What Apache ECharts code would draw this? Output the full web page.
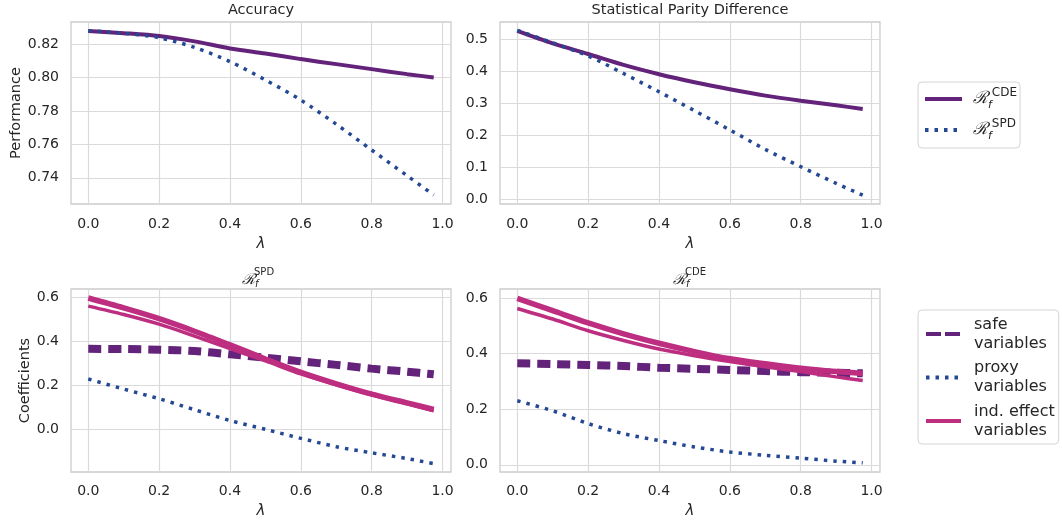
<!DOCTYPE html>
<html><head><meta charset="utf-8">
<script src="https://cdn.jsdelivr.net/npm/echarts@6/dist/echarts.min.js"></script>
<style>html,body{margin:0;padding:0;background:#fff}#c{width:1062px;height:520px}</style>
</head><body><div id="c"></div>
<script>
// ---------------- data ----------------
const lambdas = [0, 0.1, 0.2, 0.3, 0.4, 0.5, 0.6, 0.7, 0.8, 0.9, 0.975];
const xTicks = [0, 0.2, 0.4, 0.6, 0.8, 1.0];

// Accuracy panel
const accCDE = [0.8278, 0.8265, 0.8248, 0.8216, 0.8174, 0.8144, 0.8110, 0.8080, 0.8050, 0.8020, 0.8000];
const accSPD = [0.8280, 0.8265, 0.8238, 0.8180, 0.8095, 0.7985, 0.7865, 0.7720, 0.7566, 0.7412, 0.7297];
const accTicks = [0.74, 0.76, 0.78, 0.80, 0.82];

// Statistical Parity Difference panel
const spdCDE = [0.525, 0.486, 0.453, 0.419, 0.390, 0.365, 0.343, 0.323, 0.307, 0.293, 0.281];
const spdSPD = [0.527, 0.488, 0.447, 0.392, 0.335, 0.276, 0.216, 0.155, 0.101, 0.049, 0.012];
const spdTicks = [0, 0.1, 0.2, 0.3, 0.4, 0.5];

// Coefficients, R^SPD
const rspdSafe  = [0.366, 0.365, 0.362, 0.356, 0.341, 0.326, 0.309, 0.293, 0.276, 0.262, 0.250];
const rspdProxy = [0.229, 0.183, 0.139, 0.089, 0.040, 0.000, -0.041, -0.079, -0.107, -0.133, -0.156];
const rspdInd1  = [0.597, 0.552, 0.503, 0.446, 0.384, 0.320, 0.259, 0.207, 0.160, 0.120, 0.090];
const rspdInd2  = [0.560, 0.522, 0.478, 0.424, 0.367, 0.311, 0.252, 0.202, 0.157, 0.116, 0.084];
const rspdTicks = [0, 0.2, 0.4, 0.6];

// Coefficients, R^CDE
const rcdeSafe  = [0.365, 0.362, 0.359, 0.355, 0.349, 0.345, 0.341, 0.337, 0.333, 0.331, 0.329];
const rcdeProxy = [0.230, 0.194, 0.148, 0.112, 0.087, 0.064, 0.046, 0.034, 0.024, 0.013, 0.007];
const rcdeInd1  = [0.598, 0.554, 0.510, 0.471, 0.437, 0.407, 0.381, 0.363, 0.347, 0.335, 0.328];
const rcdeInd2  = [0.562, 0.524, 0.482, 0.447, 0.416, 0.392, 0.371, 0.352, 0.335, 0.316, 0.303];
const rcdeTicks = [0, 0.2, 0.4, 0.6];

const panelTitles = ['Accuracy', 'Statistical Parity Difference'];
const seriesNames = ['ℛ_f^CDE', 'ℛ_f^SPD', 'safe variables', 'proxy variables', 'ind. effect variables'];

// ---------------- styling ----------------
const PURPLE = '#63237a', BLUE = '#244894', PINK = '#be2e80', TXT = '#262626';
const FONT = 'DejaVu Sans';
const DOT = [3.5, 6];

const pairs = ys => lambdas.map((x, i) => [x, ys[i]]);

const grids = [
  {left: 71, top: 22, width: 380, height: 182},
  {left: 500, top: 22, width: 380, height: 182},
  {left: 71, top: 289, width: 380, height: 183},
  {left: 500, top: 289, width: 380, height: 183}
].map(g => Object.assign(g, {show: true, borderColor: '#cccccc', borderWidth: 1.3, backgroundColor: '#fff'}));

function xAx(gi, gap, margin) {
  return {
    type: 'value', gridIndex: gi, min: -0.04875, max: 1.02375,
    axisLine: {show: false}, axisTick: {show: false, customValues: xTicks},
    axisLabel: {customValues: xTicks, formatter: v => v.toFixed(1), margin: margin, color: TXT, fontSize: 14, fontFamily: FONT},
    splitLine: {show: true, lineStyle: {color: '#dadada', width: 1.2}},
    name: 'λ', nameLocation: 'middle', nameGap: gap,
    nameTextStyle: {fontStyle: 'italic', fontSize: 15, color: TXT, fontFamily: FONT}
  };
}
function yAx(gi, mn, mx, ticks, dec, name, gap) {
  return {
    type: 'value', gridIndex: gi, min: mn, max: mx,
    axisLine: {show: false}, axisTick: {show: false, customValues: ticks},
    axisLabel: {customValues: ticks, formatter: v => v.toFixed(dec), margin: 12, color: TXT, fontSize: 14, fontFamily: FONT},
    splitLine: {show: true, lineStyle: {color: '#dadada', width: 1.2}},
    name: name, nameLocation: 'middle', nameGap: gap,
    nameTextStyle: {fontSize: 14.5, color: TXT, fontFamily: FONT}
  };
}

function line(name, gi, ys, color, width, type, z) {
  return {
    type: 'line', name: name, xAxisIndex: gi, yAxisIndex: gi, data: pairs(ys),
    symbol: 'none', smooth: 0.3, z: z,
    lineStyle: {color: color, width: width, type: type, cap: 'butt'},
    itemStyle: {color: color}, emphasis: {disabled: true}
  };
}

const richR = {
  R: {fontSize: 17, fontStyle: 'italic', fontWeight: 'normal', fontFamily: 'DejaVu Serif', color: TXT, lineHeight: 24, verticalAlign: 'middle'},
  f: {fontSize: 11, fontStyle: 'italic', fontWeight: 'normal', fontFamily: FONT, color: TXT, lineHeight: 11, verticalAlign: 'bottom'},
  s: {fontSize: 12, fontWeight: 'normal', fontFamily: FONT, color: TXT, lineHeight: 12, verticalAlign: 'top'}
};
const richT = {
  R: {fontSize: 15, fontStyle: 'italic', fontWeight: 'normal', fontFamily: 'DejaVu Serif', color: TXT, lineHeight: 18, verticalAlign: 'middle'},
  f: {fontSize: 10, fontStyle: 'italic', fontWeight: 'normal', fontFamily: FONT, color: TXT, lineHeight: 10, verticalAlign: 'bottom'}
};
const hideSym = {opacity: 0, borderWidth: 0};

const option = {
  animation: false,
  backgroundColor: '#fff',
  textStyle: {fontFamily: FONT},
  title: [
    {text: panelTitles[0], left: 261, top: 3, textAlign: 'center', padding: 0, textStyle: {fontSize: 14.5, fontWeight: 'normal', color: TXT, fontFamily: FONT}},
    {text: panelTitles[1], left: 690, top: 3, textAlign: 'center', padding: 0, textStyle: {fontSize: 14.5, fontWeight: 'normal', color: TXT, fontFamily: FONT}},
    {text: '{R|ℛ}{f|f}', left: 242, top: 271, padding: 0, textStyle: {fontWeight: 'normal', rich: richT}},
    {text: 'SPD', left: 254, top: 267, padding: 0, textStyle: {fontSize: 10, fontWeight: 'normal', color: TXT, fontFamily: FONT}},
    {text: '{R|ℛ}{f|f}', left: 673, top: 271, padding: 0, textStyle: {fontWeight: 'normal', rich: richT}},
    {text: 'CDE', left: 685, top: 267, padding: 0, textStyle: {fontSize: 10, fontWeight: 'normal', color: TXT, fontFamily: FONT}}
  ],
  grid: grids,
  xAxis: [xAx(0, 33, 13), xAx(1, 33, 13), xAx(2, 32, 12), xAx(3, 32, 12)],
  yAxis: [
    yAx(0, 0.7243, 0.8332, accTicks, 2, 'Performance', 47),
    yAx(1, -0.0155, 0.553, spdTicks, 1, '', 40),
    yAx(2, -0.194, 0.638, rspdTicks, 1, 'Coefficients', 38),
    yAx(3, -0.026, 0.632, rcdeTicks, 1, '', 40)
  ],
  legend: [
    {
      orient: 'vertical', left: 918, top: 82, padding: [5, 3, 6, 5], itemGap: 7,
      itemWidth: 37, itemHeight: 14,
      borderColor: '#d4d4d4', borderWidth: 1, borderRadius: 4, backgroundColor: '#fff',
      data: [
        {name: seriesNames[0], lineStyle: {width: 4}, itemStyle: hideSym},
        {name: seriesNames[1], lineStyle: {width: 4, type: [3.5, 6]}, itemStyle: hideSym}
      ],
      formatter: n => n === seriesNames[0] ? '{R|ℛ}{f|f}{s|CDE}' : '{R|ℛ}{f|f}{s|SPD}',
      textStyle: {color: TXT, padding: [0, 0, 0, 6], rich: richR}
    },
    {
      orient: 'vertical', left: 918, top: 310, padding: [5, 4, 4, 6], itemGap: 5.5,
      itemWidth: 35, itemHeight: 14,
      borderColor: '#d4d4d4', borderWidth: 1, borderRadius: 4, backgroundColor: '#fff',
      data: [
        {name: seriesNames[2], lineStyle: {width: 4, type: [15, 4]}, itemStyle: hideSym},
        {name: seriesNames[3], lineStyle: {width: 4, type: [3.5, 6]}, itemStyle: hideSym},
        {name: seriesNames[4], lineStyle: {width: 4}, itemStyle: hideSym}
      ],
      formatter: n => n.replace(' variables', '\nvariables'),
      textStyle: {color: TXT, fontSize: 16, lineHeight: 19, fontFamily: FONT, padding: [0, 0, 0, 8]}
    }
  ],
  series: [
    line(seriesNames[0], 0, accCDE, PURPLE, 4, 'solid', 2),
    line(seriesNames[1], 0, accSPD, BLUE, 3.5, DOT, 3),
    line(seriesNames[0], 1, spdCDE, PURPLE, 4, 'solid', 2),
    line(seriesNames[1], 1, spdSPD, BLUE, 3.5, DOT, 3),

    line(seriesNames[2], 2, rspdSafe, PURPLE, 8, [13, 7], 2),
    line(seriesNames[3], 2, rspdProxy, BLUE, 3.5, DOT, 3),
    line(seriesNames[4], 2, rspdInd1, PINK, 5.5, 'solid', 4),
    line(seriesNames[4], 2, rspdInd2, PINK, 3.5, 'solid', 4),

    line(seriesNames[2], 3, rcdeSafe, PURPLE, 8, [13, 7], 2),
    line(seriesNames[3], 3, rcdeProxy, BLUE, 3.5, DOT, 3),
    line(seriesNames[4], 3, rcdeInd1, PINK, 5.5, 'solid', 4),
    line(seriesNames[4], 3, rcdeInd2, PINK, 3.5, 'solid', 4)
  ]
};
echarts.init(document.getElementById('c')).setOption(option);
</script></body></html>
